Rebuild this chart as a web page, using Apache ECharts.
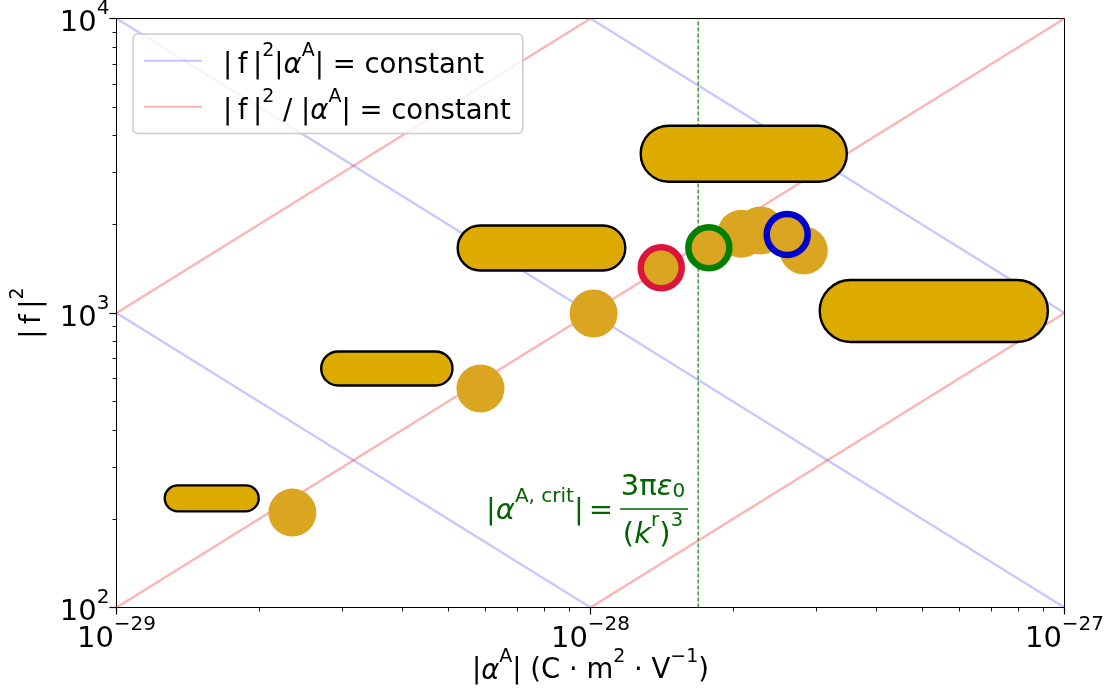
<!DOCTYPE html>
<html>
<head>
<meta charset="utf-8">
<script src="https://cdn.jsdelivr.net/npm/echarts@6/dist/echarts.min.js"></script>
<style>html,body{margin:0;padding:0;background:#fff;}#c{width:1105px;height:695px;}</style>
</head>
<body>
<div id="c"></div>
<script>
// ---------------- data ----------------
// |alpha^A| in C·m²·V⁻¹, |f|² dimensionless
const xTicks = [1e-29, 1e-28, 1e-27];
const yTicks = [1e2, 1e3, 1e4];
const circleX = [2.35e-29, 5.86e-29, 1.015e-28, 2.08e-28, 2.284e-28, 2.818e-28];
const circleY = [210, 554, 996, 1857, 1906, 1630];
const ringX = [1.41e-28, 1.777e-28, 2.60e-28];
const ringY = [1424, 1665, 1848];
const barLeft = [1.258e-29, 2.69e-29, 5.22e-29, 1.27e-28, 3.03e-28];
const barRight = [2.005e-29, 5.14e-29, 1.19e-28, 3.49e-28, 9.27e-28];
const barY = [234.8, 648, 1663, 3474, 1016];
// iso-lines: endpoints on the frame
const blueLines = [
  [[1e-29, 1e3], [1e-28, 1e2]],
  [[1e-29, 1e4], [1e-27, 1e2]],
  [[1e-28, 1e4], [1e-27, 1e3]]
];
const redLines = [
  [[1e-29, 1e3], [1e-28, 1e4]],
  [[1e-29, 1e2], [1e-27, 1e4]],
  [[1e-28, 1e2], [1e-27, 1e3]]
];
const critAlpha = 1.687e-28;
const minorMult = [2, 3, 4, 5, 6, 7, 8, 9];

// The x axis is plotted in units of 1e-28 C·m²·V⁻¹ (avoids rounding of tiny values in the log scale)
const X_EXP = -28;
const X_UNIT = Math.pow(10, X_EXP);
const sx = function (v) { return v / X_UNIT; };

// ---------------- styles ----------------
const FONT = 'DejaVu Sans';
const FS = 29, FSS = 20;      // tick labels
const LFS = 27.5, LFSS = 19;  // legend / axis names
const BAR_THICKNESS_PX = [26, 34, 45, 56, 62];
const BLUE = 'rgba(0,0,255,0.22)';
const RED = 'rgba(255,0,0,0.3)';
const GOLD = '#daa520';
const BARFILL = '#ddaa00';
const TXTGREEN = '#006400';

const NAME_B = 'blue';
const NAME_R = 'red';

function richSet(color, fs, fss) {
  return {
    t: {fontFamily: FONT, fontSize: fs, color: color, fill: color, lineHeight: fs + 10, verticalAlign: 'bottom'},
    i: {fontFamily: FONT, fontSize: fs, fontStyle: 'italic', color: color, fill: color, lineHeight: fs + 10, verticalAlign: 'bottom'},
    s: {fontFamily: FONT, fontSize: fss, color: color, fill: color, lineHeight: fss + 2, verticalAlign: 'top'},
    sub: {fontFamily: FONT, fontSize: fss, color: color, fill: color, lineHeight: fss + 2, verticalAlign: 'bottom'},
    g: {fontFamily: FONT, fontSize: fs, width: 16, lineHeight: fs + 10}
  };
}

function expLabel(e) {
  return '{t|10}{s|' + (e < 0 ? '\u2212' + (-e) : e) + '}';
}

const minorX = [], minorY = [];
[-29, -28].forEach(function (n) { minorMult.forEach(function (k) { minorX.push(n + Math.log10(k)); }); });
[2, 3].forEach(function (n) { minorMult.forEach(function (k) { minorY.push(n + Math.log10(k)); }); });

const F = '|\u2009f\u2009|';

const series = [];
blueLines.forEach(function (seg) {
  series.push({type: 'line', name: NAME_B, data: seg.map(function (p) { return [sx(p[0]), p[1]]; }), symbol: 'none', silent: true,
    lineStyle: {color: BLUE, width: 2.3}, itemStyle: {color: BLUE}, z: 1});
});
redLines.forEach(function (seg) {
  series.push({type: 'line', name: NAME_R, data: seg.map(function (p) { return [sx(p[0]), p[1]]; }), symbol: 'none', silent: true,
    lineStyle: {color: RED, width: 2.3}, itemStyle: {color: RED}, z: 1});
});
series.push({type: 'line', name: 'crit', data: [[sx(critAlpha), yTicks[0]], [sx(critAlpha), yTicks[2]]], symbol: 'none',
  lineStyle: {color: '#1f8a1f', width: 1.3, type: [4, 2]}, z: 2, silent: true});
series.push({
  type: 'custom', name: 'bars', z: 3,
  data: barLeft.map(function (l, i) { return [sx(l), sx(barRight[i]), barY[i]]; }),
  encode: {x: [0, 1], y: 2},
  renderItem: function (params, api) {
    const p0 = api.coord([api.value(0), api.value(2)]);
    const p1 = api.coord([api.value(1), api.value(2)]);
    const h = BAR_THICKNESS_PX[params.dataIndex];
    return {type: 'rect', shape: {x: p0[0] + 1, y: p0[1] - h / 2, width: p1[0] - p0[0] - 2, height: h, r: h / 2},
      style: {fill: BARFILL, stroke: '#000', lineWidth: 2.4}};
  }
});
series.push({type: 'scatter', name: 'pts', data: circleX.map(function (x, i) { return [sx(x), circleY[i]]; }),
  symbolSize: 48, itemStyle: {color: GOLD, opacity: 1}, z: 4, silent: true});
const ringColors = ['#dc143c', '#008000', '#0000cd'];
ringX.forEach(function (x, i) {
  series.push({type: 'scatter', name: 'ring' + i, data: [[sx(x), ringY[i]]], symbolSize: 41,
    itemStyle: {color: GOLD, borderColor: ringColors[i], borderWidth: 6.5, opacity: 1}, z: 5, silent: true});
});

const chart = echarts.init(document.getElementById('c'), null, {renderer: 'canvas'});
const option = {
  animation: false,
  backgroundColor: '#fff',
  grid: {left: 116.5, top: 18.5, right: 40.5, bottom: 87.5, show: true, borderColor: '#000', borderWidth: 1,
    containLabel: false, outerBoundsMode: 'none'},
  legend: {
    orient: 'vertical', left: 133, top: 34, padding: [8, 12, 8, 10], itemGap: 8.5,
    itemWidth: 58, itemHeight: 2, selectedMode: false,
    itemStyle: {opacity: 0},
    backgroundColor: 'rgba(255,255,255,0.8)', borderColor: '#cccccc', borderWidth: 1.5, borderRadius: 5,
    data: [NAME_B, NAME_R],
    formatter: function (name) {
      if (name === NAME_B) return '{g| }{t|' + F + '}{s|2}{t||}{i|\u03b1}{s|A}{t|| = constant}';
      return '{g| }{t|' + F + '}{s|2}{t| / |}{i|\u03b1}{s|A}{t|| = constant}';
    },
    textStyle: {rich: richSet('#000', LFS, LFSS)}
  },
  xAxis: [{
    type: 'log', logBase: 10, min: sx(xTicks[0]), max: sx(xTicks[2]), gridIndex: 0, position: 'bottom',
    axisLine: {show: false}, splitLine: {show: false},
    axisTick: {show: true, length: 7, lineStyle: {color: '#000', width: 1.2}},
    axisLabel: {show: true, margin: 7, rich: richSet('#000', FS, FSS),
      formatter: function (v) { return expLabel(Math.round(Math.log10(v)) + X_EXP); }},
    name: '{t||}{i|\u03b1}{s|A}{t|| (C \u00b7 m}{s|2}{t| \u00b7 V}{s|\u22121}{t|)}',
    nameLocation: 'middle', nameGap: 40, nameRotate: 0, nameMoveOverlap: false,
    nameTextStyle: {rich: richSet('#000', LFS, LFSS)}
  }, {
    type: 'value', min: -29, max: -27, gridIndex: 0, position: 'bottom',
    axisLine: {show: false}, splitLine: {show: false}, axisLabel: {show: false},
    axisTick: {show: true, length: 4, customValues: minorX, lineStyle: {color: '#000', width: 0.9}}
  }],
  yAxis: [{
    type: 'log', logBase: 10, min: yTicks[0], max: yTicks[2], gridIndex: 0, position: 'left',
    axisLine: {show: false}, splitLine: {show: false},
    axisTick: {show: true, length: 7, lineStyle: {color: '#000', width: 1.2}},
    axisLabel: {show: true, margin: 7, rich: richSet('#000', FS, FSS),
      formatter: function (v) { return expLabel(Math.round(Math.log10(v))); }},
    name: '{t|' + F + '}{s|2}', nameLocation: 'middle', nameGap: 70, nameRotate: 90, nameMoveOverlap: false,
    nameTextStyle: {rich: richSet('#000', LFS, LFSS)}
  }, {
    type: 'value', min: 2, max: 4, gridIndex: 0, position: 'left',
    axisLine: {show: false}, splitLine: {show: false}, axisLabel: {show: false},
    axisTick: {show: true, length: 4, customValues: minorY, lineStyle: {color: '#000', width: 0.9}}
  }],
  series: series,
  graphic: [
    {type: 'text', x: 486, y: 506, z: 10, silent: true,
      style: {text: '{t||}{i|\u03b1}{s|A, crit}{t||}', align: 'left', verticalAlign: 'middle', rich: richSet(TXTGREEN, FS, FSS)}},
    {type: 'text', x: 601, y: 506, z: 10, silent: true,
      style: {text: '{t|=}', align: 'center', verticalAlign: 'middle', rich: richSet(TXTGREEN, FS, FSS)}},
    {type: 'text', x: 653, y: 482, z: 10, silent: true,
      style: {text: '{t|3\u03c0}{i|\u03b5}{sub|0}', align: 'center', verticalAlign: 'middle', rich: richSet(TXTGREEN, FS, FSS)}},
    {type: 'line', z: 10, silent: true, shape: {x1: 620, y1: 509, x2: 688, y2: 509}, style: {stroke: TXTGREEN, lineWidth: 1.5}},
    {type: 'text', x: 653, y: 530, z: 10, silent: true,
      style: {text: '{t|(}{i|k}{s|r}{t|)}{s|3}', align: 'center', verticalAlign: 'middle', rich: richSet(TXTGREEN, FS, FSS)}}
  ]
};
chart.setOption(option);
</script>
</body>
</html>
